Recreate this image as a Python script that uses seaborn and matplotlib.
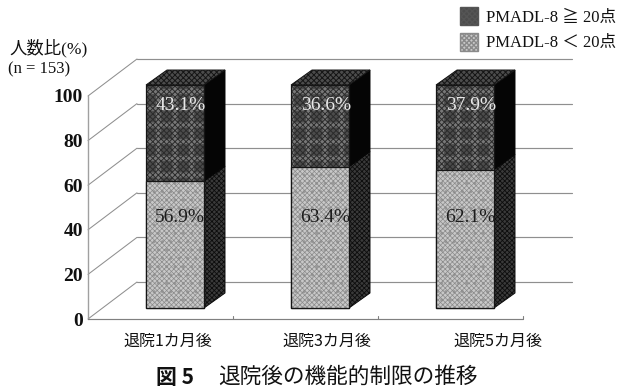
import matplotlib
matplotlib.use("Agg")
import matplotlib.pyplot as plt
from matplotlib.patches import Patch, Polygon
from matplotlib.font_manager import FontProperties
import pandas as pd
import seaborn as sns

periods = ["退院1カ月後", "退院3カ月後", "退院5カ月後"]
below_20 = [56.9, 63.4, 62.1]
above_20 = [43.1, 36.6, 37.9]
y_ticks = [0, 20, 40, 60, 80, 100]
series_labels = ["PMADL-8 ≧ 20点", "PMADL-8 ＜ 20点"]

W, H = 621, 391
BASE_PX, UNIT_PX, SLOT_PX, FIRST_PX = 308, 2.23, 145, 175

sns.set_theme(style="white")
MIXED = ["Liberation Serif", "Noto Sans CJK JP"]
GOTHIC = ["Noto Sans CJK JP", "Liberation Serif"]

fig = plt.figure(figsize=(W / 100, H / 100), dpi=100, facecolor="white")
ax = fig.add_axes([0, 0, 1, 1])


def dx(px):
    return px / SLOT_PX


def dv(px):
    return px / UNIT_PX


def at(px_x, px_y):
    return (px_x - FIRST_PX) / SLOT_PX, (BASE_PX - px_y) / UNIT_PX


frame = pd.DataFrame({"period": periods, "below": below_20, "above": above_20})
frame["total"] = frame["below"] + frame["above"]

DARK_BASE = "#4c4c4c"
DARK_TEX = [("+", "#787878", 3.5), ("xxxxxx", "#2b2b2b", 0.7)]
LIGHT_BASE = "#c8c8c8"
LIGHT_TEX = [("..", "#9a9a9a", 1.0), ("xxxxxxx", "#8a8a8a", 0.5)]
BAR_W = 58 / SLOT_PX
WALL_X, WALL_V = dx(49), dv(37)
AX_X = dx(88 - FIRST_PX)
AX_V0 = dv(-11)
RIGHT_X = dx(572 - FIRST_PX)
FLOOR_END_X = dx(523 - FIRST_PX)
GRID = "#8f8f8f"

# walls of the oblique box behind the bars
for t in y_ticks:
    v = AX_V0 + t
    ax.plot([AX_X, AX_X + WALL_X], [v, v + WALL_V], color=GRID, lw=0.75, zorder=1)
    ax.plot([AX_X + WALL_X, RIGHT_X], [v + WALL_V] * 2, color=GRID, lw=0.85, zorder=1)
    ax.text(AX_X - dx(5), v - dv(2), str(t), ha="right", va="center", fontsize=14,
            fontweight="bold", family="Liberation Serif", color="#111111")
ax.plot([AX_X, AX_X], [AX_V0, AX_V0 + 100], color="#a0a0a0", lw=1.0, zorder=1)
ax.plot([AX_X, FLOOR_END_X], [AX_V0, AX_V0], color="#808080", lw=0.85, zorder=1)
for k in range(len(periods)):
    tick_x = dx(233 - FIRST_PX) + k
    ax.plot([tick_x, tick_x], [AX_V0, AX_V0 + dv(3)], color="#808080", lw=0.8, zorder=1)


def face(column, base, layers, z):
    """Front face of one stack segment, built as a base colour plus hatch layers."""
    sns.barplot(data=frame, x="period", y=column, order=periods, width=BAR_W, color=base,
                saturation=1, linewidth=0, ax=ax)
    for bar in ax.patches[-len(periods):]:
        bar.set_zorder(z)
    for n, (hatch, colour, lw) in enumerate(layers, start=1):
        sns.barplot(data=frame, x="period", y=column, order=periods, width=BAR_W, color=colour,
                    fill=False, linewidth=0, hatch=hatch, ax=ax)
        for bar in ax.patches[-len(periods):]:
            bar.set_zorder(z + n * 0.1)
            bar.set_hatch_linewidth(lw)
    sns.barplot(data=frame, x="period", y=column, order=periods, width=BAR_W, color="#151515",
                fill=False, linewidth=0.9, ax=ax)
    for bar in ax.patches[-len(periods):]:
        bar.set_zorder(z + 0.5)


face("total", DARK_BASE, DARK_TEX, 5)
face("below", LIGHT_BASE, LIGHT_TEX, 6)

BAR_DX, BAR_DV = dx(21), dv(15)
half = BAR_W / 2
for i, (low, total) in enumerate(zip(below_20, frame["total"])):
    r = i + half
    side_low = Polygon([(r, 0), (r + BAR_DX, BAR_DV), (r + BAR_DX, low + BAR_DV), (r, low)],
                       facecolor="#3a3a3a", edgecolor="#0d0d0d", lw=0.7, hatch="xxxxxxx", zorder=4)
    side_low.set_hatch_linewidth(0.6)
    side_high = Polygon([(r, low), (r + BAR_DX, low + BAR_DV), (r + BAR_DX, total + BAR_DV), (r, total)],
                        facecolor="#050505", edgecolor="#050505", lw=0.7, zorder=4)
    top_pts = [(i - half, total), (i - half + BAR_DX, total + BAR_DV),
               (r + BAR_DX, total + BAR_DV), (r, total)]
    top = Polygon(top_pts, facecolor=DARK_BASE, edgecolor="#151515", lw=0.7, hatch="xxxxxx", zorder=4)
    top.set_hatch_linewidth(0.7)
    for shape in (side_low, side_high, top):
        ax.add_patch(shape)
    # value labels sit at a fixed height on each segment
    ax.text(i + dx(5), dv(308 - 217), f"{low}%", ha="center", va="center", fontsize=14,
            family="Liberation Serif", color="#1c1c1c", zorder=8)
    ax.text(i + dx(6), dv(308 - 106), f"{above_20[i]}%", ha="center", va="center", fontsize=14,
            family="Liberation Serif", color="#e8e8e8", zorder=8)

ax.set_xlim(-FIRST_PX / SLOT_PX, (W - FIRST_PX) / SLOT_PX)
ax.set_ylim((BASE_PX - H) / UNIT_PX, BASE_PX / UNIT_PX)
ax.axis("off")

# category labels below the floor
label_centres = [168, 327, 498]
for label, cx in zip(periods, label_centres):
    ax.text(*at(cx, 341), label, ha="center", va="center",
            fontsize=11.5, family=GOTHIC, color="#111111")

ax.text(*at(9, 48), "人数比(%)", ha="left", va="center", fontsize=12.5, family=MIXED, color="#111111")
ax.text(*at(8, 69), "(n = 153)", ha="left", va="center", fontsize=12, family=MIXED, color="#111111")
ax.text(*at(156, 377), "図 5", ha="left", va="center", fontsize=15, fontweight="bold",
        family=GOTHIC, color="#111111")
ax.text(*at(218, 377), "退院後の機能的制限の推移", ha="left", va="center", fontsize=15.6,
        family=GOTHIC, color="#111111")

dark_key = Patch(facecolor=DARK_BASE, edgecolor="#555555", hatch="xxxxxx", label=series_labels[0])
light_key = Patch(facecolor=LIGHT_BASE, edgecolor="#8a8a8a", hatch="xxxxxxx", label=series_labels[1])
dark_key.set_hatch_linewidth(0.7)
light_key.set_hatch_linewidth(0.5)
ax.legend(handles=[dark_key, light_key], loc="upper left", bbox_to_anchor=(460 / W, 1 - 7 / H),
          bbox_transform=fig.transFigure, frameon=False, handlelength=1.1, handleheight=1.3,
          handletextpad=0.45, labelspacing=0.42, borderpad=0, borderaxespad=0,
          prop=FontProperties(family=MIXED, size=12), labelcolor="#111111")

fig.savefig("out.png", dpi=100)
